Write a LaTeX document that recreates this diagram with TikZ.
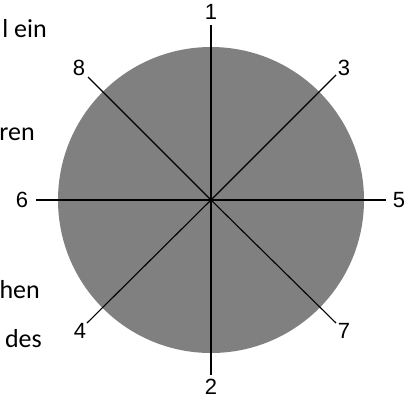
\documentclass[tikz,border=0pt]{standalone}
\usepackage{fontspec}
\setmainfont{Carlito}
\newfontfamily\numfont{Liberation Sans}
\definecolor{discgray}{HTML}{808080}
\begin{document}
\begin{tikzpicture}[x=1pt,y=-1pt,
  spoke/.style={draw=black,line width=1.1pt},
  numlabel/.style={font=\numfont\fontsize{22}{22}\selectfont,inner sep=0pt},
  sidetext/.style={font=\fontsize{26}{26}\selectfont,inner sep=0pt,anchor=base east}]
\useasboundingbox (0,0) rectangle (417,400);
\fill[discgray] (211,200) circle (153);
\coordinate (c) at (211,200);
\coordinate (e1) at (211,25);
\coordinate (e2) at (211,375);
\coordinate (e6) at (36,200);
\coordinate (e5) at (386,200);
\coordinate (e8) at (88,77);
\coordinate (e3) at (336,75);
\coordinate (e4) at (87,323);
\coordinate (e7) at (336,323);
\foreach \e in {e1,e2,e3,e4,e5,e6,e7,e8} \draw[spoke] (c) -- (\e);
\node[numlabel] (n1) at (211,12) {1};
\node[numlabel] (n2) at (211,387) {2};
\node[numlabel] (n6) at (22,200) {6};
\node[numlabel] (n5) at (399,200) {5};
\node[numlabel] (n8) at (79,68) {8};
\node[numlabel] (n3) at (344,68) {3};
\node[numlabel] (n4) at (80,331) {4};
\node[numlabel] (n7) at (344,331) {7};
\node[sidetext] (t1) at (47,37) {l ein};
\node[sidetext] (t2) at (35,140) {ren};
\node[sidetext] (t3) at (40,298) {hen};
\node[sidetext] (t4) at (42,347) {des};
\end{tikzpicture}
\end{document}
